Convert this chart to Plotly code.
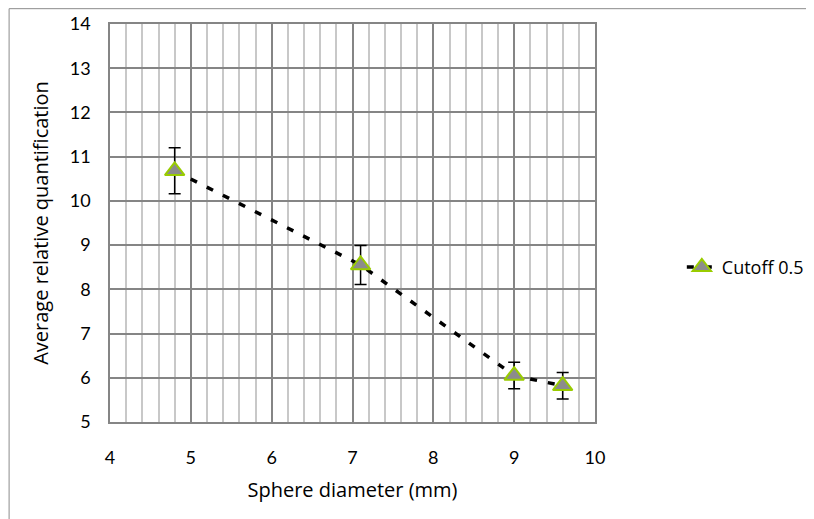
import plotly.graph_objects as go

diameter = [4.8, 7.1, 9.0, 9.6]
quant = [10.68, 8.55, 6.05, 5.82]
err = [0.52, 0.44, 0.30, 0.30]
series_name = "Cutoff 0.5"

# page has an 8px body margin; figure coordinates are page coordinates minus 8
OFF = 8
W, H = 814 - OFF, 519 - OFF
L, R, T, B = 109.5 - OFF, 595 - OFF, 24.3 - OFF, 421.7 - OFF

fig = go.Figure()
fig.add_trace(go.Scatter(
    x=diameter, y=quant, name=series_name, mode="lines+markers",
    line=dict(color="black", width=3.5, dash="7px,11px"),
    marker=dict(symbol="triangle-up", size=17, color="#8c8c8c",
                line=dict(color="#99cc00", width=2)),
    error_y=dict(type="data", array=err, visible=True, color="black",
                 thickness=1.5, width=6),
))

tick_font = "Lato, sans-serif"
title_font = "Open Sans, sans-serif"
fig.update_layout(
    width=W, height=H,
    margin=dict(l=L, r=W - R, t=T, b=H - B, pad=0, autoexpand=False),
    paper_bgcolor="white", plot_bgcolor="white",
    font=dict(family=tick_font, size=18, color="black"),
    showlegend=True,
    legend=dict(x=1.179, y=0.389, xanchor="left", yanchor="middle",
                font=dict(family=title_font, size=18), bgcolor="rgba(0,0,0,0)"),
    xaxis=dict(range=[4, 10], dtick=1, tick0=4, automargin=False,
               showgrid=True, gridcolor="#858585", gridwidth=1.5,
               minor=dict(dtick=0.2, showgrid=True, gridcolor="#c8c8c8", gridwidth=1.5),
               showline=True, linecolor="#858585", linewidth=1.5, mirror=True,
               ticks="", ticklabelstandoff=19, zeroline=False,
               title=dict(text="Sphere diameter (mm)", standoff=16,
                          font=dict(family=title_font, size=20))),
    yaxis=dict(range=[5, 14], dtick=1, automargin=False,
               showgrid=True, gridcolor="#858585", gridwidth=1.5,
               showline=True, linecolor="#858585", linewidth=1.5, mirror=True,
               ticks="", ticklabelstandoff=14, zeroline=False,
               title=dict(text="Average relative quantification", standoff=16,
                          font=dict(family=title_font, size=20))),
)

pw, ph = R - L, B - T
fig.add_shape(type="rect", xref="paper", yref="paper",
              x0=(0.5 - L) / pw, x1=(W - 0.5 - L) / pw,
              y0=(B - (H + 5)) / ph, y1=(B - 1) / ph,
              line=dict(color="#8c8c8c", width=1), layer="below")

fig.write_html("out.html")
